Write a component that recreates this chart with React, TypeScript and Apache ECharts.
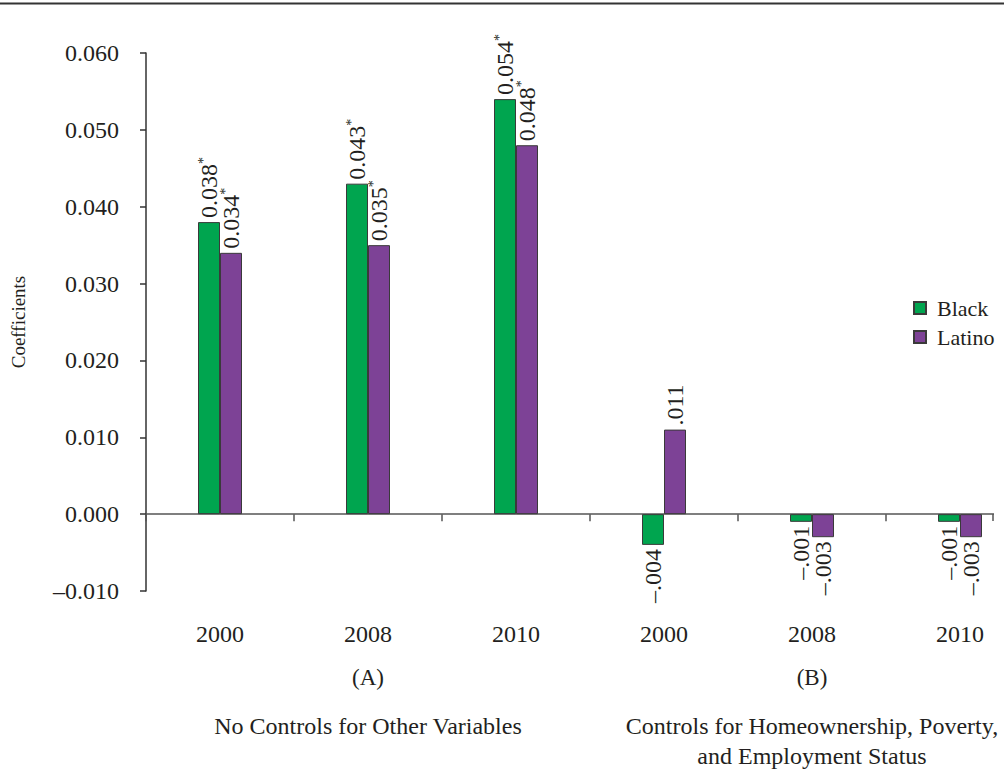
import React, { useEffect, useRef } from "react";
import * as echarts from "echarts";

// Coefficients by year, without (A) and with (B) controls
const years = ["2000", "2008", "2010", "2000", "2008", "2010"];
const black = [0.038, 0.043, 0.054, -0.004, -0.001, -0.001];
const latino = [0.034, 0.035, 0.048, 0.011, -0.003, -0.003];
// Which values are marked significant (asterisk)
const blackSig = [true, true, true, false, false, false];
const latinoSig = [true, true, true, false, false, false];
const yTicks = { min: -0.01, max: 0.06, step: 0.01 };
const groupTags = ["(A)", "(B)"];
const groupNotes = [
  ["No Controls for Other Variables"],
  ["Controls for Homeownership, Poverty,", "and Employment Status"],
];

const FONT = "'Liberation Serif', 'Times New Roman', serif";
const INK = "#231f20";
const GREEN = "#00a54f";
const PURPLE = "#7d4296";
const EDGE = "#3a3a3a";

function fmtValue(v: number): string {
  const abs = Math.abs(v).toFixed(3);
  if (v < 0) return "\u2013" + abs.slice(1);
  if (v < 0.02) return abs.slice(1);
  return abs;
}

function barData(values: number[], sig: boolean[]) {
  return values.map((v, i) => {
    const neg = v < 0;
    const text = fmtValue(v);
    return {
      value: v,
      label: {
        show: true,
        position: neg ? "bottom" : "top",
        rotate: 90,
        align: neg ? "right" : "left",
        verticalAlign: "middle",
        distance: 4,
        formatter: sig[i] ? `{v|${text}}{s|*}` : `{v|${text}}`,
        rich: {
          v: { fontFamily: FONT, fontSize: 24, color: INK },
          s: { fontFamily: FONT, fontSize: 14, color: INK, padding: [0, 0, 12, 0] },
        },
      },
    };
  });
}

export default function App() {
  const ref = useRef<HTMLDivElement>(null);

  useEffect(() => {
    if (!ref.current) return;
    const chart = echarts.init(ref.current, undefined, { renderer: "svg" });

    const option = {
      animation: false,
      backgroundColor: "#ffffff",
      // the plot runs on past the right edge of the page; its last band is cut off
      grid: { left: 146, right: 0, top: 53, bottom: 180, containLabel: false },
      legend: {
        orient: "vertical",
        left: 908,
        top: 292,
        itemWidth: 12,
        itemHeight: 12,
        itemGap: 7,
        icon: "rect",
        textStyle: { fontFamily: FONT, fontSize: 22, color: INK, padding: [0, 0, 0, 6] },
        data: ["Black", "Latino"],
      },
      xAxis: [
        {
          type: "category",
          data: years,
          axisLine: { onZero: true, lineStyle: { color: "#555", width: 1.5 } },
          axisTick: { show: true, length: 7, lineStyle: { color: "#555", width: 1.5 } },
          axisLabel: {
            interval: 0,
            margin: 31,
            fontFamily: FONT,
            fontSize: 24,
            color: INK,
          },
        },
        {
          type: "category",
          data: groupTags,
          position: "bottom",
          axisLine: { show: false, onZero: false },
          axisTick: { show: false },
          axisLabel: {
            interval: 0,
            margin: 52,
            formatter: (val: string, idx: number) =>
              `{p|${val}}\n` + groupNotes[idx].map((t) => `{d|${t}}`).join("\n"),
            rich: {
              p: { fontFamily: FONT, fontSize: 23, color: INK, lineHeight: 68 },
              d: { fontFamily: FONT, fontSize: 24, color: INK, lineHeight: 30 },
            },
          },
        },
      ],
      yAxis: {
        type: "value",
        min: yTicks.min,
        max: yTicks.max,
        interval: yTicks.step,
        name: "Coefficients",
        nameLocation: "middle",
        nameGap: 118,
        nameTextStyle: { fontFamily: FONT, fontSize: 19, color: INK },
        axisLine: { show: true, lineStyle: { color: "#333", width: 1.5 } },
        axisTick: { show: true, length: 6, lineStyle: { color: "#333", width: 1.5 } },
        splitLine: { show: false },
        axisLabel: {
          margin: 27,
          fontFamily: FONT,
          fontSize: 24,
          color: INK,
          formatter: (v: number) =>
            (v < 0 ? "\u2013" : "") + Math.abs(v).toFixed(3),
        },
      },
      series: [
        {
          name: "Black",
          type: "bar",
          xAxisIndex: 0,
          barWidth: 22,
          barGap: "0%",
          itemStyle: { color: GREEN, borderColor: EDGE, borderWidth: 1 },
          data: barData(black, blackSig),
        },
        {
          name: "Latino",
          type: "bar",
          xAxisIndex: 0,
          barWidth: 22,
          barGap: "0%",
          itemStyle: { color: PURPLE, borderColor: EDGE, borderWidth: 1 },
          data: barData(latino, latinoSig),
        },
      ],
      graphic: [
        // rule across the top of the figure
        {
          type: "line",
          shape: { x1: 0, y1: 3.5, x2: 1034, y2: 3.5 },
          style: { stroke: "#333", lineWidth: 2 },
        },
        // the baseline stops short of the frame edge, closed by a tick
        {
          type: "rect",
          shape: { x: 994, y: 505, width: 40, height: 22 },
          style: { fill: "#ffffff" },
          z: 100,
        },
        {
          type: "line",
          shape: { x1: 993, y1: 514, x2: 993, y2: 521 },
          style: { stroke: "#555", lineWidth: 1.5 },
          z: 101,
        },
      ],
    };

    chart.setOption(option as any);
    return () => chart.dispose();
  }, []);

  return (
    <div
      ref={ref}
      style={{ position: "fixed", left: 0, top: 0, width: 1034, height: 771 }}
    />
  );
}
